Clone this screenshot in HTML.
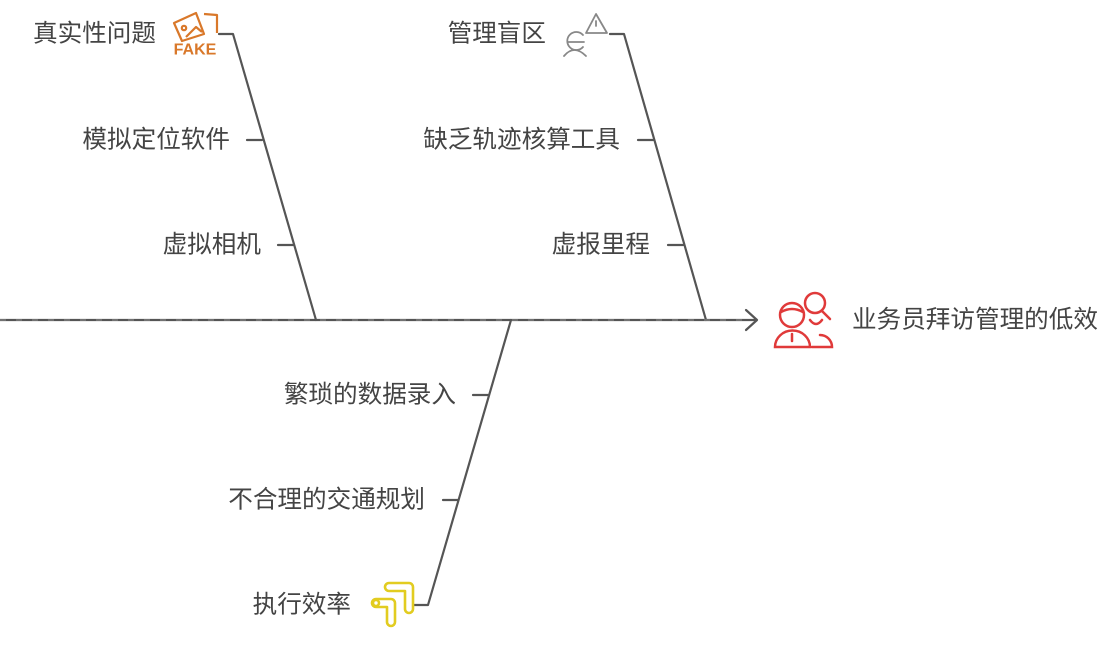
<!DOCTYPE html>
<html><head><meta charset="utf-8"><style>
html,body{margin:0;padding:0;background:#fff;}
svg{display:block}
text{font-family:"Liberation Sans","Noto Sans CJK SC",sans-serif;font-size:24.6px;fill:#444;dominant-baseline:central}
</style></head><body>
<svg width="1108" height="652" viewBox="0 0 1108 652" xmlns="http://www.w3.org/2000/svg">
<g stroke="#555" stroke-width="2.2" fill="none" stroke-linecap="round" stroke-linejoin="round">
<line x1="0" y1="320" x2="756" y2="320"/>
<polyline points="746,310 757,320 746,330"/>
<polyline points="219,34 233,34 316,320"/>
<line x1="247" y1="140" x2="262" y2="140"/>
<line x1="278" y1="245" x2="293" y2="245"/>
<polyline points="610,34 624,34 706,320"/>
<line x1="638" y1="140" x2="653" y2="140"/>
<line x1="668" y1="245" x2="683" y2="245"/>
<polyline points="511,320 428,605 413,605"/>
<line x1="473" y1="395" x2="488" y2="395"/>
<line x1="443" y1="500" x2="458" y2="500"/>
</g>
<g stroke="#fff" stroke-width="1" stroke-dasharray="6 10" opacity="0.35"><line x1="0" y1="320" x2="750" y2="320"/></g>
<text x="156" y="34" text-anchor="end">真实性问题</text>
<text x="230" y="140" text-anchor="end">模拟定位软件</text>
<text x="261" y="245" text-anchor="end">虚拟相机</text>
<text x="546" y="34" text-anchor="end">管理盲区</text>
<text x="620" y="140" text-anchor="end">缺乏轨迹核算工具</text>
<text x="650" y="245" text-anchor="end">虚报里程</text>
<text x="456" y="395" text-anchor="end">繁琐的数据录入</text>
<text x="425" y="500" text-anchor="end">不合理的交通规划</text>
<text x="351" y="605" text-anchor="end">执行效率</text>
<text x="852" y="320">业务员拜访管理的低效</text>
<!-- FAKE icon -->
<g stroke="#d9782a" stroke-width="2.2" fill="none" stroke-linejoin="round">
<polygon points="174,23 196,13 204,34 182,41"/>
<circle cx="184" cy="28" r="2.2"/>
<polyline points="186,37 196,27 202,32"/>
<polyline points="204,14 217,15 217,33"/>
</g>
<text x="195" y="50" text-anchor="middle" style="font-size:16px;font-weight:bold;fill:#d9782a">FAKE</text>
<!-- warning icon -->
<g stroke="#888" stroke-width="1.8" fill="none" stroke-linejoin="round" stroke-linecap="round">
<polygon points="596,14 586,33 607,33"/>
<line x1="596" y1="21" x2="596" y2="26"/>
<path d="M583,35 a9,9 0 1,0 0,12"/>
<line x1="568" y1="42" x2="584" y2="42"/>
<path d="M564,56 q10,-12 22,0"/>
</g>
<!-- person search icon red -->
<g stroke="#e03a3a" stroke-width="2.5" fill="none" stroke-linecap="round">
<circle cx="792" cy="315" r="12"/>
<path d="M781,312 q11,-6 22,0"/>
<path d="M775,347 a17,16 0 0,1 35,0 z"/>
<line x1="792" y1="334" x2="792" y2="341"/>
<circle cx="815" cy="303" r="10"/>
<line x1="822" y1="311" x2="830" y2="319"/>
<path d="M810,320 q6,8 12,0"/>
<path d="M812,347 h20 a12,12 0 0,0 -12,-12"/>
</g>
<!-- yellow icon -->
<g stroke="#e2cc20" stroke-width="2.6" fill="none" stroke-linejoin="round">
<path d="M389,583 h20 a4,4 0 0,1 4,4 v22 a4,4 0 0,1 -8,0 v-18 h-16 a4,4 0 0,1 0,-8 z"/>
<path d="M376,599 h15 a4,4 0 0,1 4,4 v19 a4,4 0 0,1 -8,0 v-15 h-11 a4,4 0 0,1 0,-8 z"/>
<circle cx="376" cy="603" r="3"/>
</g>
</svg>
</body></html>
